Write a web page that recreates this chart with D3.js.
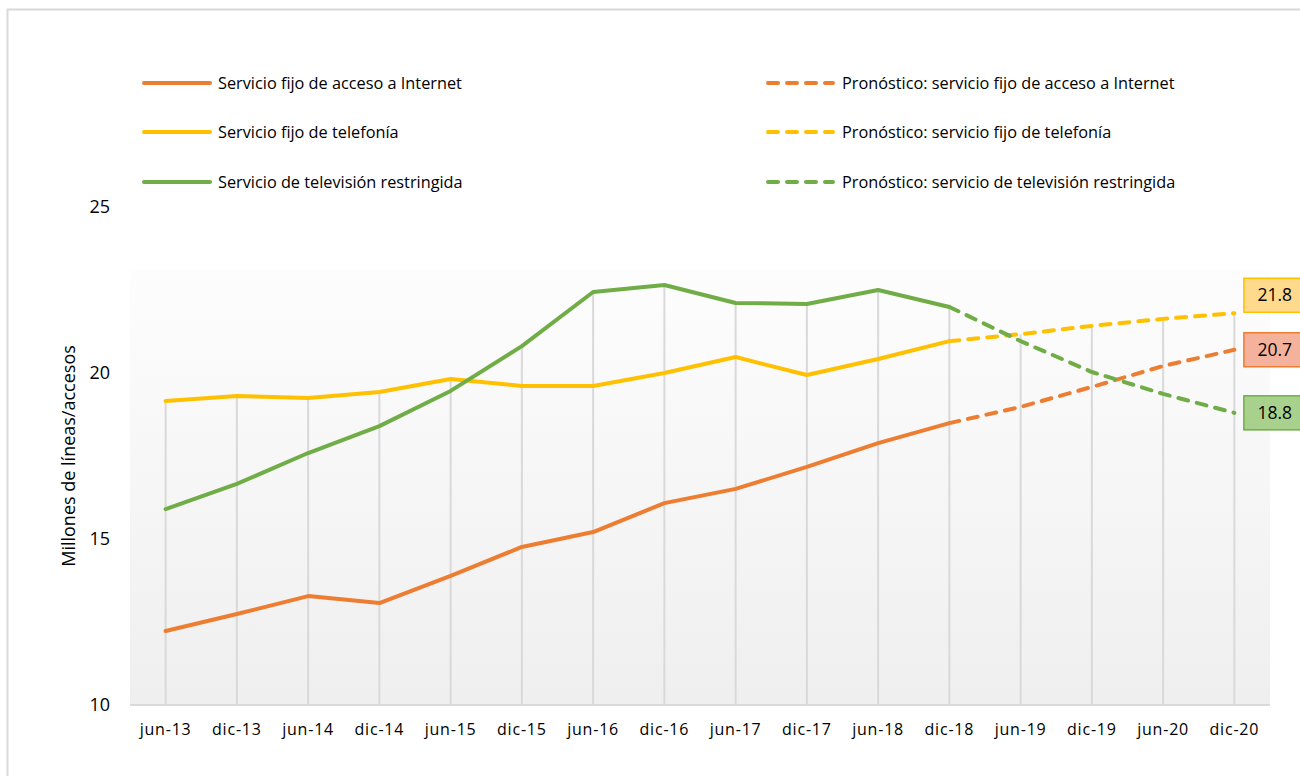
<!DOCTYPE html>
<html>
<head>
<meta charset="utf-8">
<script src="https://cdn.jsdelivr.net/npm/d3@7"></script>
<style>
  body { margin: 0; background: #fff; }
  text { font-family: "Open Sans", "Noto Sans", sans-serif; fill: #000; }
</style>
</head>
<body>
<div id="chart"></div>
<script>
// periods on the x axis
var periods = ["jun-13", "dic-13", "jun-14", "dic-14", "jun-15", "dic-15", "jun-16", "dic-16",
               "jun-17", "dic-17", "jun-18", "dic-18", "jun-19", "dic-19", "jun-20", "dic-20"];

// observed values (jun-13 .. dic-18), millions
var internet = [12.23, 12.74, 13.28, 13.07, 13.89, 14.76, 15.21, 16.08, 16.51, 17.17, 17.89, 18.49];
var telefonia = [19.16, 19.31, 19.25, 19.43, 19.82, 19.61, 19.61, 20.00, 20.48, 19.94, 20.42, 20.96];
var television = [15.90, 16.66, 17.59, 18.40, 19.46, 20.81, 22.44, 22.65, 22.11, 22.08, 22.50, 21.99];

// forecast values (dic-18 .. dic-20)
var internetPron = [18.49, 18.98, 19.58, 20.21, 20.7];
var telefoniaPron = [20.96, 21.17, 21.42, 21.63, 21.8];
var televisionPron = [21.99, 20.96, 20.03, 19.37, 18.8];

var yTicks = [10, 15, 20, 25];

var legendLabels = ["Servicio fijo de acceso a Internet", "Servicio fijo de telefonía", "Servicio de televisión restringida"];
var legendPronLabels = ["Pronóstico: servicio fijo de acceso a Internet", "Pronóstico: servicio fijo de telefonía", "Pronóstico: servicio de televisión restringida"];

function init() {
    var w = 1300, h = 776;
    var colors = ["#ed7d31", "#ffc000", "#70ad47"];
    var boxFill = ["#f4b19b", "#ffd98c", "#a9d18e"];

    var svg = d3.select("#chart").append("svg")
        .attr("width", w)
        .attr("height", h);

    // outer chart border
    svg.append("rect")
        .attr("x", 7.5).attr("y", 9.5)
        .attr("width", w).attr("height", h)
        .attr("fill", "none")
        .attr("stroke", "#d9d9d9")
        .attr("stroke-width", 2);

    var x = d3.scaleBand()
        .domain(periods)
        .range([130, 1270]);

    var y = d3.scaleLinear()
        .domain([10, 25])
        .range([705, 207]);

    function cx(p) { return x(p) + x.bandwidth() / 2; }

    // plot area gradient
    var defs = svg.append("defs");
    var grad = defs.append("linearGradient")
        .attr("id", "bg")
        .attr("x1", 0).attr("y1", 0).attr("x2", 0).attr("y2", 1);
    grad.append("stop").attr("offset", "0%").attr("stop-color", "#fdfdfd");
    grad.append("stop").attr("offset", "100%").attr("stop-color", "#efefef");

    svg.append("rect")
        .attr("x", x.range()[0])
        .attr("y", y(25) + 63)
        .attr("width", x.range()[1] - x.range()[0])
        .attr("height", y(10) - y(25) - 63)
        .attr("fill", "url(#bg)");

    // drop lines from highest value of each period
    var allSeries = [
        internet.concat(internetPron.slice(1)),
        telefonia.concat(telefoniaPron.slice(1)),
        television.concat(televisionPron.slice(1))
    ];
    svg.append("g").selectAll("line")
        .data(periods)
        .enter().append("line")
        .attr("x1", function(d) { return cx(d); })
        .attr("x2", function(d) { return cx(d); })
        .attr("y1", function(d, i) { return y(d3.max(allSeries, function(s) { return s[i]; })); })
        .attr("y2", y(10))
        .attr("stroke", "#d9d9d9")
        .attr("stroke-width", 2);

    // bottom axis line
    svg.append("line")
        .attr("x1", x.range()[0]).attr("x2", x.range()[1])
        .attr("y1", y(10)).attr("y2", y(10))
        .attr("stroke", "#d9d9d9")
        .attr("stroke-width", 2);

    // x tick labels
    svg.append("g").selectAll("text")
        .data(periods)
        .enter().append("text")
        .attr("x", function(d) { return cx(d); })
        .attr("y", 735)
        .attr("text-anchor", "middle")
        .style("font-size", "16px")
        .style("letter-spacing", "0.8px")
        .text(function(d) { return d; });

    // y tick labels
    svg.append("g").selectAll("text")
        .data(yTicks)
        .enter().append("text")
        .attr("x", 110)
        .attr("y", function(d) { return y(d); })
        .attr("dy", "0.35em")
        .attr("text-anchor", "end")
        .style("font-size", "18px")
        .text(function(d) { return d; });

    // y axis title
    svg.append("text")
        .attr("transform", "translate(75," + ((y(10) + y(25)) / 2) + ") rotate(-90)")
        .attr("text-anchor", "middle")
        .style("font-size", "18px")
        .text("Millones de líneas/accesos");

    var line = d3.line()
        .x(function(d) { return cx(d.p); })
        .y(function(d) { return y(d.v); });

    var actual = [internet, telefonia, television];
    var pron = [internetPron, telefoniaPron, televisionPron];

    // forecast lines (dashed)
    pron.forEach(function(s, k) {
        var pts = s.map(function(v, i) { return { p: periods[11 + i], v: v }; });
        svg.append("path")
            .attr("d", line(pts))
            .attr("fill", "none")
            .attr("stroke", colors[k])
            .attr("stroke-width", 4)
            .attr("stroke-dasharray", "10,9")
            .attr("stroke-linecap", "round");
    });

    // observed lines
    actual.forEach(function(s, k) {
        var pts = s.map(function(v, i) { return { p: periods[i], v: v }; });
        svg.append("path")
            .attr("d", line(pts))
            .attr("fill", "none")
            .attr("stroke", colors[k])
            .attr("stroke-width", 4)
            .attr("stroke-linejoin", "round")
            .attr("stroke-linecap", "round");
    });

    // end value labels
    var labelShift = [0, -18, 0];
    var labels = svg.append("g").selectAll("g")
        .data(pron)
        .enter().append("g")
        .attr("transform", function(d, k) {
            var last = d[d.length - 1];
            return "translate(" + (cx(periods[15]) + 9) + "," + (y(last) + labelShift[k]) + ")";
        });
    labels.append("rect")
        .attr("x", 0.5).attr("y", -17)
        .attr("width", 60).attr("height", 34)
        .attr("fill", function(d, k) { return boxFill[k]; })
        .attr("stroke", function(d, k) { return colors[k]; })
        .attr("stroke-width", 1.5);
    labels.append("text")
        .attr("x", 14)
        .attr("y", 0)
        .attr("dy", "0.35em")
        .style("font-size", "17.5px")
        .text(function(d) { return d3.format(".1f")(d[d.length - 1]); });

    // legend
    var rowY = [83, 132, 182];
    var leg = svg.append("g").selectAll("g")
        .data(legendLabels)
        .enter().append("g")
        .attr("transform", function(d, i) { return "translate(0," + rowY[i] + ")"; });
    leg.append("line")
        .attr("x1", 144).attr("x2", 210)
        .attr("stroke", function(d, i) { return colors[i]; })
        .attr("stroke-width", 4)
        .attr("stroke-linecap", "round");
    leg.append("text")
        .attr("x", 218)
        .attr("dy", "0.35em")
        .style("font-size", "16.3px")
        .text(function(d) { return d; });

    var legP = svg.append("g").selectAll("g")
        .data(legendPronLabels)
        .enter().append("g")
        .attr("transform", function(d, i) { return "translate(0," + rowY[i] + ")"; });
    legP.append("line")
        .attr("x1", 768).attr("x2", 833)
        .attr("stroke", function(d, i) { return colors[i]; })
        .attr("stroke-width", 4)
        .attr("stroke-dasharray", "10,9")
        .attr("stroke-linecap", "round");
    legP.append("text")
        .attr("x", 842)
        .attr("dy", "0.35em")
        .style("font-size", "16.3px")
        .text(function(d) { return d; });
}

window.onload = init;
</script>
</body>
</html>
